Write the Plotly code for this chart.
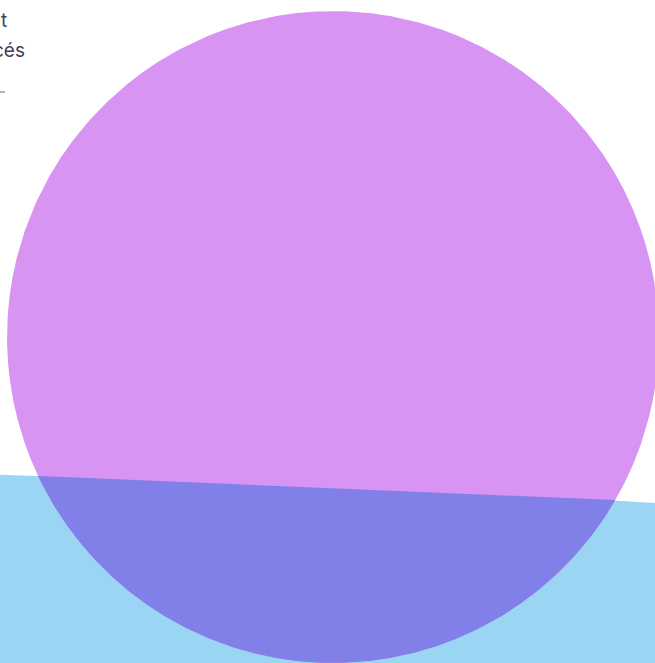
import numpy as np
import plotly.graph_objects as go

# Venn sets (pixel-space geometry of the zoomed view)
set_names = ["Set B (large)", "Set A"]
set_cx = [-2178.7, 333.0]
set_cy = [60435.0, 337.0]
set_r = [60000.0, 326.0]
set_colors = ["#9AD6F3", "#D894F2"]
overlap_color = "#8080E8"

label_texts = ["t", "cés"]
label_x = [8.5, 27.0]
label_y = [20.0, 50.0]
leader_x = [-10, 5]
leader_y = [92, 92]

W, H = 655, 663


def circle_pts(cx, cy, r, n=6000):
    t = np.linspace(0, 2 * np.pi, n)
    return cx + r * np.cos(t), cy + r * np.sin(t)


def lens(c1, r1, c2, r2, n=800):
    c1 = np.array(c1, float)
    c2 = np.array(c2, float)
    d = np.linalg.norm(c2 - c1)
    a = (r1 ** 2 - r2 ** 2 + d ** 2) / (2 * d)
    al1 = np.arctan2(*(c2 - c1)[::-1])
    b1 = np.arccos(a / r1)
    al2 = np.arctan2(*(c1 - c2)[::-1])
    b2 = np.arccos((d - a) / r2)
    t1 = np.linspace(al1 - b1, al1 + b1, n)
    arc1 = np.c_[c1[0] + r1 * np.cos(t1), c1[1] + r1 * np.sin(t1)]
    t2 = np.linspace(al2 - b2, al2 + b2, n)
    arc2 = np.c_[c2[0] + r2 * np.cos(t2), c2[1] + r2 * np.sin(t2)]
    if np.linalg.norm(arc2[0] - arc1[-1]) > np.linalg.norm(arc2[-1] - arc1[-1]):
        arc2 = arc2[::-1]
    pts = np.vstack([arc1, arc2, arc1[:1]])
    return pts[:, 0], pts[:, 1]


fig = go.Figure()
for i in range(2):
    x, y = circle_pts(set_cx[i], set_cy[i], set_r[i])
    fig.add_trace(go.Scatter(x=x, y=y, mode="lines", fill="toself",
                             fillcolor=set_colors[i], line=dict(width=0),
                             name=set_names[i], hoverinfo="skip"))

lx, ly = lens((set_cx[1], set_cy[1]), set_r[1], (set_cx[0], set_cy[0]), set_r[0])
fig.add_trace(go.Scatter(x=lx, y=ly, mode="lines", fill="toself",
                         fillcolor=overlap_color, line=dict(width=0),
                         name="A ∩ B", hoverinfo="skip"))

fig.add_trace(go.Scatter(x=leader_x, y=leader_y, mode="lines",
                         line=dict(color="#7FA7B3", width=1.5), hoverinfo="skip"))

for t, x, y in zip(label_texts, label_x, label_y):
    fig.add_annotation(x=x, y=y, text=t, showarrow=False, xanchor="right",
                       yanchor="middle",
                       font=dict(family="Inter, Open Sans, sans-serif", size=19,
                                 color="#40405A"))

fig.update_layout(
    width=W, height=H, margin=dict(l=0, r=0, t=0, b=0),
    paper_bgcolor="white", plot_bgcolor="white", showlegend=False,
    xaxis=dict(range=[0, W], visible=False, fixedrange=True),
    yaxis=dict(range=[H, 0], visible=False, fixedrange=True),
)
fig.write_html("out.html", config={"displayModeBar": False},
               post_script="document.body.style.margin='0';document.body.style.overflow='hidden';")
